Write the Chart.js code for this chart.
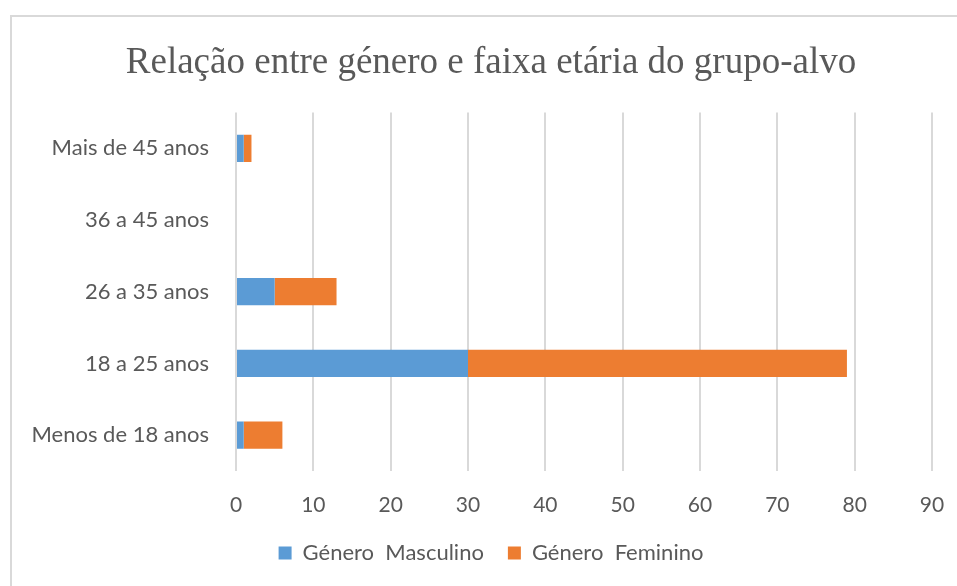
<!DOCTYPE html>
<html>
<head>
<meta charset="utf-8">
<script src="https://cdn.jsdelivr.net/npm/chart.js@4"></script>
<style>
html,body{margin:0;padding:0;background:#fff;}
#wrap{position:relative;width:957px;height:586px;}
</style>
</head>
<body>
<div id="wrap"><canvas id="c" width="957" height="586"></canvas></div>
<script>
const categories = ["Mais de 45 anos", "36 a 45 anos", "26 a 35 anos", "18 a 25 anos", "Menos de 18 anos"];
const masculino = [1, 0, 5, 30, 1];
const feminino = [1, 0, 8, 49, 5];
const seriesNames = ["Género  Masculino", "Género  Feminino"];
const titleText = "Relação entre género e faixa etária do grupo-alvo";

const frame = {
  id: 'frame',
  beforeDraw(chart) {
    const ctx = chart.ctx;
    ctx.save();
    ctx.fillStyle = '#fff';
    ctx.fillRect(0, 0, chart.width, chart.height);
    ctx.strokeStyle = '#d9d9d9';
    ctx.lineWidth = 2;
    ctx.strokeRect(11, 16, 1200, 1200);
    ctx.restore();
  }
};

new Chart(document.getElementById('c'), {
  type: 'bar',
  data: {
    labels: categories,
    datasets: [
      { label: seriesNames[0], data: masculino, backgroundColor: '#5b9bd5', borderWidth: 0, barPercentage: 1, categoryPercentage: 0.38 },
      { label: seriesNames[1], data: feminino, backgroundColor: '#ed7d31', borderWidth: 0, barPercentage: 1, categoryPercentage: 0.38 }
    ]
  },
  options: {
    indexAxis: 'y',
    responsive: false,
    animation: false,
    layout: { padding: { left: 25, right: 0, top: 0, bottom: 12 } },
    scales: {
      x: {
        stacked: true,
        min: 0, max: 90,
        ticks: { stepSize: 10, color: '#595959', font: { family: 'Lato', size: 21 }, padding: 22 },
        grid: { color: '#d9d9d9', lineWidth: 2, drawTicks: false },
        border: { display: false },
        afterFit(scale) { scale.height = 47; scale.paddingRight = 0; scale.paddingLeft = 0; }
      },
      y: {
        stacked: true,
        ticks: { color: '#595959', font: { family: 'Lato', size: 22 }, padding: 27 },
        grid: { display: false, drawTicks: false },
        border: { display: false },
        afterFit(scale) { scale.width = 211; }
      },
      y2: {
        type: 'linear',
        position: 'right',
        display: true,
        ticks: { display: false },
        grid: { display: false, drawTicks: false },
        border: { display: false },
        afterFit(scale) { scale.width = 25; }
      }
    },
    plugins: {
      title: {
        display: true,
        text: titleText,
        color: '#595959',
        font: { family: 'Liberation Serif', size: 37, weight: 'normal' },
        padding: { top: 41, bottom: 27 }
      },
      legend: {
        position: 'bottom',
        labels: { color: '#595959', font: { family: 'Lato', size: 22 }, boxWidth: 13, boxHeight: 13, padding: 24 }
      },
      tooltip: { enabled: false }
    }
  },
  plugins: [frame]
});
</script>
</body>
</html>
